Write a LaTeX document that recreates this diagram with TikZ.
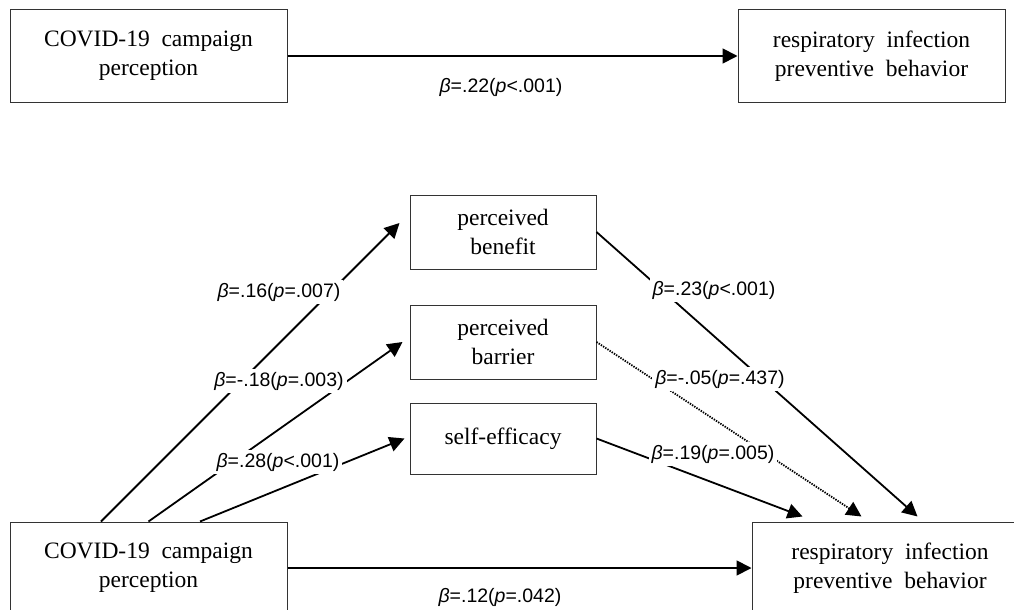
\documentclass[tikz,border=0pt]{standalone}
\usepackage{fontspec}
\setmainfont{Liberation Serif}
\newfontfamily\lblfont{Liberation Sans}
\usetikzlibrary{arrows.meta,calc}
\tikzset{
  varbox/.style={draw=black!80, line width=1pt, rectangle, align=center, inner sep=0pt,
    font=\fontsize{23.5}{29}\selectfont},
  bigbox/.style={varbox, minimum width=277pt, minimum height=92pt},
  midbox/.style={varbox, minimum width=186pt, minimum height=74pt},
  path/.style={line width=1.8pt, -{Triangle[length=15pt,width=15pt]}},
  nspath/.style={line width=1.8pt, dash pattern=on 1.4pt off 1.2pt, -{Triangle[length=15pt,width=15pt]}},
  lbl/.style={fill=white, inner sep=3pt, font=\lblfont\fontsize{19.5}{21}\selectfont}
}
\begin{document}
\begin{tikzpicture}[x=1pt,y=-1pt]
\useasboundingbox (0,0) rectangle (1014,610);
\clip (0,0) rectangle (1014,610);
% top model
\node[bigbox] (tl) at (148.5,56) {COVID-19\ \ campaign\\perception};
\node[bigbox, minimum width=267pt] (tr) at (871.5,56) {respiratory\ \ infection\\preventive\ \ behavior};
\draw[path] (tl.east) -- (tr.west);
\node[lbl] (lt) at (501,87) {\textit{β}=.22(\textit{p}<.001)};
% bottom model
\node[bigbox] (bl) at (148.5,568) {COVID-19\ \ campaign\\perception};
\node[bigbox, minimum width=276pt] (br) at (890,568) {respiratory\ \ infection\\preventive\ \ behavior};
\node[midbox] (ben) at (503,232) {perceived\\benefit};
\node[midbox] (bar) at (503,342) {perceived\\barrier};
\node[midbox, minimum height=71pt] (se) at (503,438.5) {self-efficacy};
% paths
\draw[path] ([xshift=-47.5pt]bl.north) -- ([xshift=-10pt,yshift=9pt]ben.west);
\draw[path] (bl.north) -- ([xshift=-7pt]bar.west);
\draw[path] ([xshift=51.5pt]bl.north) -- ([xshift=-5pt]se.west);
\draw[path] (ben.east) -- ([xshift=166pt,yshift=5pt]br.north west);
\draw[nspath] (bar.east) -- ([xshift=110pt,yshift=5pt]br.north west);
\draw[path] (se.east) -- ([xshift=51pt,yshift=5pt]br.north west);
\draw[path] (bl.east) -- (br.west);
% labels
\node[lbl] (l1) at (279,292) {\textit{β}=.16(\textit{p}=.007)};
\node[lbl] (l2) at (279,381) {\textit{β}=-.18(\textit{p}=.003)};
\node[lbl] (l3) at (278,462) {\textit{β}=.28(\textit{p}<.001)};
\node[lbl] (r1) at (714,290) {\textit{β}=.23(\textit{p}<.001)};
\node[lbl] (r2) at (720,379) {\textit{β}=-.05(\textit{p}=.437)};
\node[lbl] (r3) at (713,454) {\textit{β}=.19(\textit{p}=.005)};
\node[lbl] (lb) at (500,597) {\textit{β}=.12(\textit{p}=.042)};
\end{tikzpicture}
\end{document}
